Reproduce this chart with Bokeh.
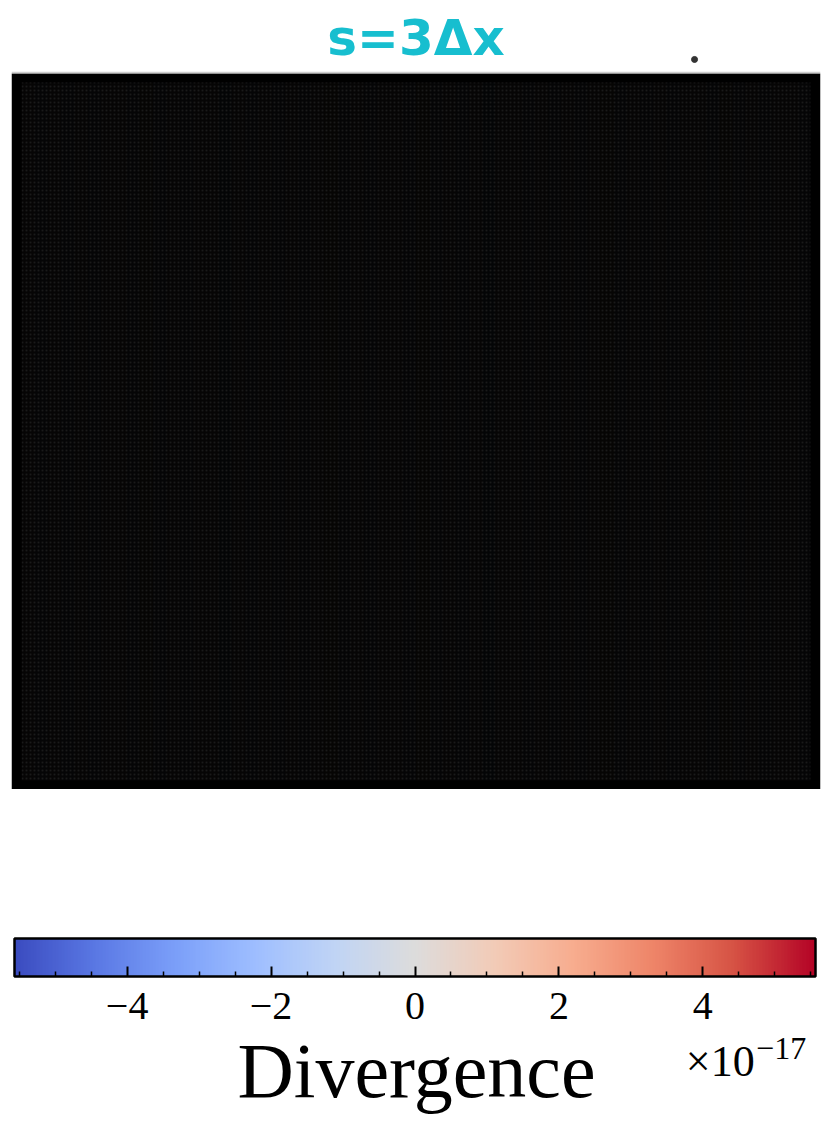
import numpy as np
from bokeh.plotting import figure
from bokeh.layouts import column
from bokeh.models import (LinearColorMapper, FixedTicker, CustomJSTickFormatter, Range1d, ColorBar)
from bokeh.core.properties import value
from bokeh.embed import file_html
from bokeh.resources import INLINE

# ---------------- data ----------------
title_text = "s=3\u0394x"
# divergence field (units of 1e-17), constant along y -> vertical stripes
stripe_divergence = [0.4, -0.6, 0.2, -0.3, 0.9, -1.2, 0.1, 0.5, -0.4, 1.6, -0.2, 0.3,
                     -0.9, 0.2, 0.7, -1.5, 0.3, -0.1, 1.1, -0.5, 0.2, -0.8, 0.4, 1.8,
                     -0.3, 0.1, -1.1, 0.6, 0.2, -0.4, 1.3, -0.7, 0.3, -0.2, 0.8, -1.6,
                     0.4, 0.1, -0.6, 1.0, -0.3, 0.5, -1.0, 0.2, 1.4, -0.5, 0.3, -0.2,
                     0.9, -1.3, 0.2, 0.6, -0.4, 1.2, -0.1, 0.3, -0.8, 0.5, 0.1, -0.3]
n_rows = 60
marker_x = [0.8443]
marker_y = [1.0196]
cbar_low, cbar_high = -5.565, 5.565
cbar_major_ticks = [-4, -2, 0, 2, 4]
cbar_minor_ticks = [-5.5, -5.0, -4.5, -3.5, -3.0, -2.5, -1.5, -1.0, -0.5,
                    0.5, 1.0, 1.5, 2.5, 3.0, 3.5, 4.5, 5.0, 5.5]
cbar_label = "Divergence"
exponent_base = "\u00d710"
exponent_power = "\u221217"

# coolwarm anchor colours
cw_anchor = ["#3b4cc0", "#5a78e4", "#7b9ff9", "#9ebeff", "#c0d4f5", "#dddcdc",
             "#f2cbb7", "#f7ac8e", "#ee8468", "#d65244", "#b40426"]


def build_palette(anchors, n=256):
    rgb = np.array([[int(c[i:i + 2], 16) for i in (1, 3, 5)] for c in anchors], float)
    pos = np.linspace(0, 1, len(anchors))
    out = []
    for t in np.linspace(0, 1, n):
        r, g, b = (np.interp(t, pos, rgb[:, k]) for k in range(3))
        out.append("#%02x%02x%02x" % (int(round(r)), int(round(g)), int(round(b))))
    return out


coolwarm = build_palette(cw_anchor)
mapper = LinearColorMapper(palette=coolwarm, low=cbar_low, high=cbar_high)

# ---------------- main panel ----------------
W = 829
H1 = 789
p = figure(width=W, height=H1, output_backend="svg", toolbar_location=None,
           x_axis_location=None, y_axis_location=None,
           x_range=Range1d(0, 1), y_range=Range1d(0, 789 / 716),
           min_border_left=11, min_border_right=9, min_border_top=0, min_border_bottom=0)
p.grid.visible = False
p.outline_line_color = None
p.background_fill_color = "white"
p.border_fill_color = "white"

# black panel
p.quad(left=[0], right=[1], bottom=[0], top=[1], fill_color="black", line_color=None)
p.segment(x0=[0], x1=[1], y0=[1.0015], y1=[1.0015], line_color="#cfcfcf", line_width=1.5)

field = np.array([stripe_divergence] * n_rows, dtype=float)
p.image(image=[field], x=0.0125, y=0.0125, dw=0.975, dh=0.975,
        color_mapper=mapper, global_alpha=0.025)
# dense quiver-like lattice
p.quad(left=[0.0125], right=[0.9875], bottom=[0.0125], top=[0.9875],
       fill_alpha=0, line_color=None, hatch_pattern="dot", hatch_color="#1a1a1a",
       hatch_scale=4, hatch_weight=1)

p.scatter(marker_x, marker_y, size=6, color="#333333")
p.text(x=[0.5], y=[1.049], text=[title_text], text_align="center",
       text_baseline="alphabetic", text_color="#17becf",
       text_font=value("DejaVu Sans"), text_font_style="bold", text_font_size="50px")

# ---------------- colorbar ----------------
H2 = 333
c = figure(width=W, height=H2, output_backend="svg", toolbar_location=None,
           x_axis_location=None, y_axis_location=None,
           x_range=Range1d(0, W), y_range=Range1d(0, H2),
           min_border_left=0, min_border_right=0, min_border_top=0, min_border_bottom=0)
c.grid.visible = False
c.outline_line_color = None
c.background_fill_color = "white"
c.border_fill_color = "white"

cb = ColorBar(color_mapper=mapper, orientation="horizontal", location=(3, 101),
              width=801, height=38, padding=0, margin=0, title=None,
              ticker=FixedTicker(ticks=cbar_major_ticks, minor_ticks=cbar_minor_ticks),
              formatter=CustomJSTickFormatter(code="return tick < 0 ? '\\u2212' + (-tick) : '' + tick;"),
              major_tick_in=10, major_tick_out=0, major_tick_line_color="black",
              major_tick_line_width=2,
              minor_tick_in=5, minor_tick_out=0, minor_tick_line_color="black",
              minor_tick_line_width=1.5,
              bar_line_color="black", bar_line_width=2.5,
              major_label_text_font="Liberation Serif", major_label_text_font_size="40px",
              major_label_text_color="black", label_standoff=16,
              background_fill_color=None, border_line_color=None)
c.add_layout(cb, "center")

c.text(x=[415], y=[52], text=[cbar_label], text_align="center", text_baseline="alphabetic",
       text_font=value("Liberation Serif"), text_font_size="78px", text_color="black")
c.text(x=[691], y=[61], text=[exponent_base], text_align="left", text_baseline="alphabetic",
       text_font=value("Liberation Serif"), text_font_size="44px", text_color="black")
c.text(x=[763], y=[74], text=[exponent_power], text_align="left", text_baseline="alphabetic",
       text_font=value("Liberation Serif"), text_font_size="32px", text_color="black")

layout = column(p, c, spacing=0)
open("out.html", "w").write(file_html(layout, INLINE))
